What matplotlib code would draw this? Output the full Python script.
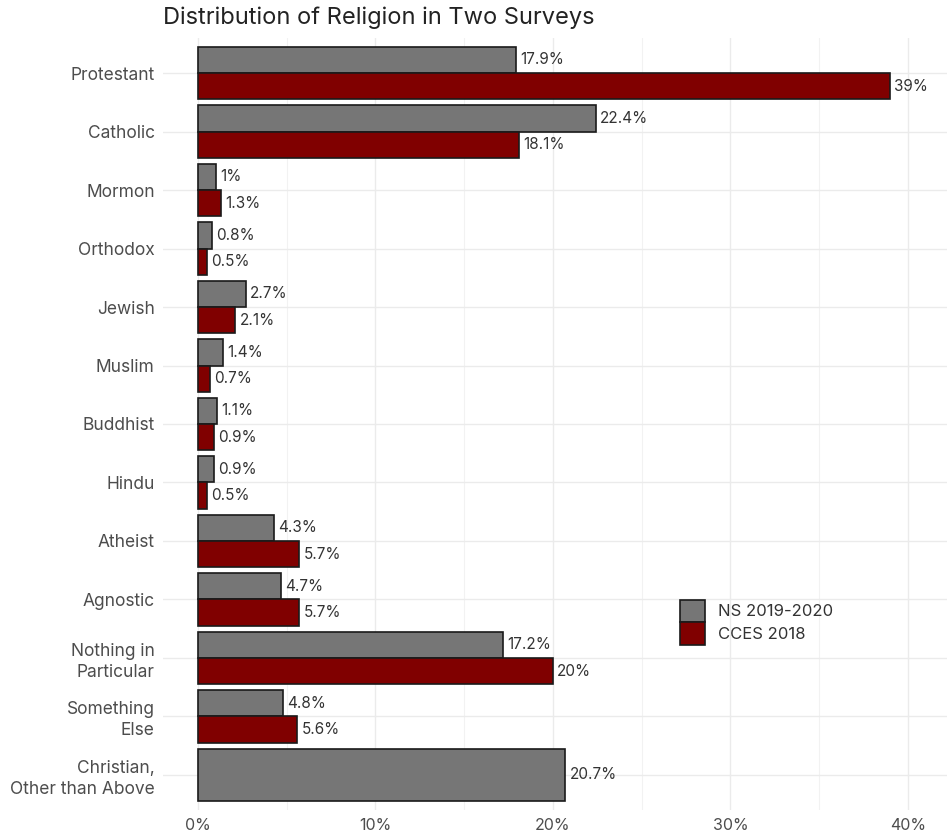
import numpy as np
import matplotlib
matplotlib.use("Agg")
import matplotlib.pyplot as plt
from matplotlib.patches import Patch

plt.rcParams['font.family'] = ['Inter', 'DejaVu Sans']

religions = ["Protestant", "Catholic", "Mormon", "Orthodox", "Jewish", "Muslim",
             "Buddhist", "Hindu", "Atheist", "Agnostic", "Nothing in\nParticular",
             "Something\nElse", "Christian,\nOther than Above"]
ns_2019 = [17.9, 22.4, 1, 0.8, 2.7, 1.4, 1.1, 0.9, 4.3, 4.7, 17.2, 4.8, 20.7]
cces_2018 = [39, 18.1, 1.3, 0.5, 2.1, 0.7, 0.9, 0.5, 5.7, 5.7, 20, 5.6, None]

gray = '#767676'
red = '#800000'
edge = '#1a1a1a'

fig = plt.figure(figsize=(9.47, 8.33), dpi=100)
ax = fig.add_axes([163 / 947, 23 / 833, 784 / 947, 772 / 833])

n = len(religions)
y = np.arange(n)
h = 0.45

def add_label(xv, yv):
    ax.annotate(f"{xv:g}%", (xv, yv), xytext=(3, 0), textcoords='offset points',
                va='center', ha='left', fontsize=11, color='#333333')

for i in range(n):
    if cces_2018[i] is None:
        ax.barh(y[i], ns_2019[i], height=2 * h, color=gray, edgecolor=edge, linewidth=1.2, zorder=3)
        add_label(ns_2019[i], y[i])
    else:
        ax.barh(y[i] - h / 2, ns_2019[i], height=h, color=gray, edgecolor=edge, linewidth=1.2, zorder=3)
        ax.barh(y[i] + h / 2, cces_2018[i], height=h, color=red, edgecolor=edge, linewidth=1.2, zorder=3)
        add_label(ns_2019[i], y[i] - h / 2)
        add_label(cces_2018[i], y[i] + h / 2)

ax.set_xlim(-1.97, 42.2)
ax.set_ylim(n - 1 + 0.6, -0.6)
ax.set_yticks(y)
ax.set_yticklabels(religions, fontsize=12.5, color='#4d4d4d', linespacing=1.3)
ax.set_xticks([0, 10, 20, 30, 40])
ax.set_xticklabels(["0%", "10%", "20%", "30%", "40%"], fontsize=11.5, color='#4d4d4d')
ax.set_xticks([5, 15, 25, 35], minor=True)
ax.tick_params(axis='both', which='both', length=0)
ax.tick_params(axis='y', pad=6)
ax.tick_params(axis='x', pad=6)
ax.grid(True, which='major', color='#ebebeb', linewidth=1.0, zorder=0)
ax.grid(True, which='minor', axis='x', color='#f2f2f2', linewidth=0.8, zorder=0)
for s in ax.spines.values():
    s.set_visible(False)

fig.text(163 / 947, 1 - 18 / 833, "Distribution of Religion in Two Surveys",
         fontsize=17, color='#222222', ha='left', va='center')

handles = [Patch(facecolor=gray, edgecolor=edge, linewidth=1.2, label="NS 2019-2020"),
           Patch(facecolor=red, edgecolor=edge, linewidth=1.2, label="CCES 2018")]
ax.legend(handles=handles, loc='center left', bbox_to_anchor=(0.659, 0.2435),
          frameon=False, fontsize=12, handlelength=1.5, handleheight=1.7,
          handletextpad=0.8, labelspacing=0.0, borderpad=0, borderaxespad=0,
          labelcolor='#333333')

fig.savefig("out.png", dpi=100)
